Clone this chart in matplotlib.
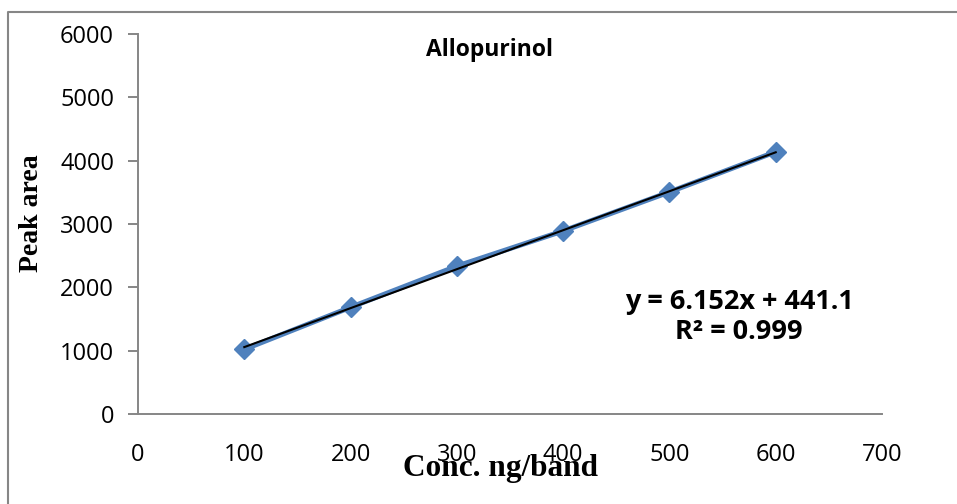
import matplotlib
matplotlib.use("Agg")
import matplotlib.pyplot as plt
from matplotlib.lines import Line2D

conc = [100, 200, 300, 400, 500, 600]
peak_area = [1020, 1685, 2335, 2890, 3505, 4140]
slope = 6.152
intercept = 441.1
x_ticks = [0, 100, 200, 300, 400, 500, 600, 700]
y_ticks = [0, 1000, 2000, 3000, 4000, 5000, 6000]

W, H = 957, 504
fig = plt.figure(figsize=(W / 100, H / 100), dpi=100)
ax = fig.add_axes([138 / W, 1 - 414 / H, (882 - 138) / W, (414 - 34) / H])

gray = "#868686"
blue = "#4F81BD"

ax.plot(conc, peak_area, color=blue, lw=3.6, marker="D", markersize=10.5,
        markerfacecolor=blue, markeredgecolor=blue, zorder=3)
fit_x = [conc[0], conc[-1]]
fit_y = [slope * v + intercept for v in fit_x]
ax.plot(fit_x, fit_y, color="black", lw=1.5, zorder=4)

ax.set_xlim(0, 700)
ax.set_ylim(0, 6000)
ax.set_xticks(x_ticks)
ax.set_yticks(y_ticks)
ax.set_xticklabels([str(v) for v in x_ticks], fontfamily="Open Sans", fontsize=17)
ax.set_yticklabels([str(v) for v in y_ticks], fontfamily="Open Sans", fontsize=17)
ax.tick_params(axis="x", length=0, pad=21)
ax.tick_params(axis="y", length=7.2, width=1.4, color=gray, pad=10)

for s in ["top", "right"]:
    ax.spines[s].set_visible(False)
for s in ["left", "bottom"]:
    ax.spines[s].set_color(gray)
    ax.spines[s].set_linewidth(1.4)

fig.text(489 / W, 1 - 56 / H, "Allopurinol", ha="center", va="baseline",
         fontfamily="Open Sans", fontweight="bold", fontsize=16.5)
fig.text(739 / W, 1 - 309 / H, "y = 6.152x + 441.1", ha="center", va="baseline",
         fontfamily="Open Sans", fontweight="bold", fontsize=19.5)
fig.text(739 / W, 1 - 339 / H, "R² = 0.999", ha="center", va="baseline",
         fontfamily="Open Sans", fontweight="bold", fontsize=19.5)
fig.text(501 / W, 1 - 476 / H, "Conc. ng/band", ha="center", va="baseline",
         fontfamily="Liberation Serif", fontweight="bold", fontsize=22.5)
fig.text(31 / W, 1 - 213 / H, "Peak area", ha="center", va="center", rotation=90,
         fontfamily="Liberation Serif", fontweight="bold", fontsize=20)

# outer chart frame (partially visible)
fig.add_artist(Line2D([8 / W, 8 / W, 1.0], [0.0, 1 - 12 / H, 1 - 12 / H],
                      transform=fig.transFigure, color=gray, lw=1.5))

fig.savefig("out.png", dpi=100)
